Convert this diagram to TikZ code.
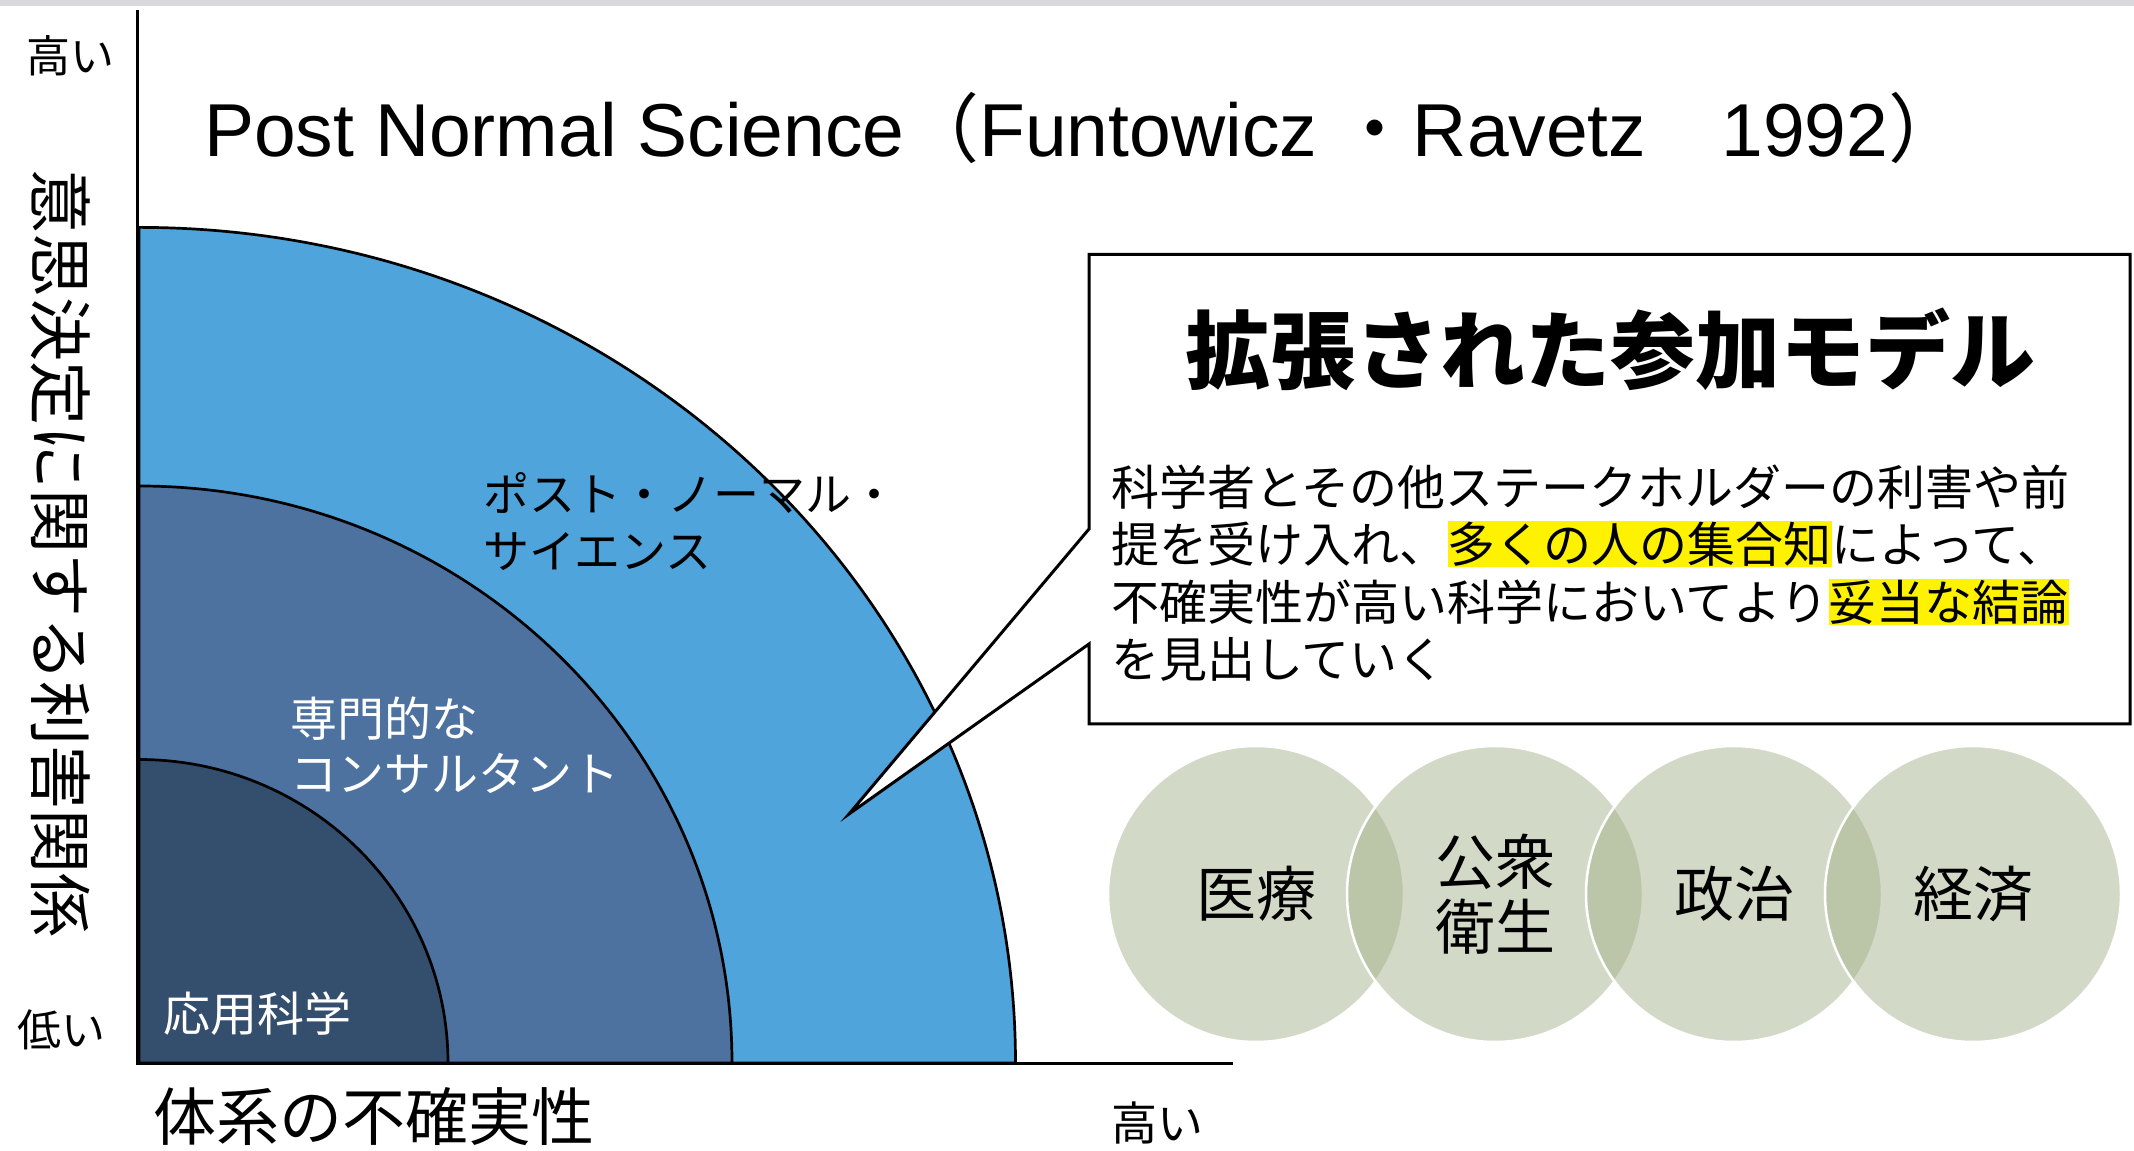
\documentclass[tikz,border=0pt]{standalone}
\usepackage{fontspec}
\setmainfont{Liberation Sans}
\newfontfamily\cjk{Noto Sans CJK JP}
\definecolor{topgrey}{RGB}{214,216,220}
\definecolor{psblue}{RGB}{79,165,219}
\definecolor{ecblue}{RGB}{78,114,160}
\definecolor{asblue}{RGB}{52,78,109}
\definecolor{venncol}{RGB}{163,178,138}
\newcommand\hlt[1]{{\setlength{\fboxsep}{0pt}\colorbox{yellow}{\rule[-0.1em]{0pt}{0.95em}#1}}}
\begin{document}
\begin{tikzpicture}[x=1pt,y=1pt,
  jp/.style={inner sep=0pt, font=\cjk\fontsize{#1}{#1}\selectfont, text height={0.88*#1pt}, text depth={0.12*#1pt}},
  jpb/.style={inner sep=0pt, font=\cjk\bfseries\fontsize{#1}{#1}\selectfont, text height={0.88*#1pt}, text depth={0.12*#1pt}},
  region/.style={draw=black, line width=2.7pt, line join=round},
  axisline/.style={draw=black, line width=3pt},
  venn/.style={circle, minimum size=296pt, inner sep=0pt, fill=venncol, fill opacity=0.48, draw=white, draw opacity=1, line width=2.5pt}
]
\useasboundingbox (0,0) rectangle (2134,1151);
\fill[white] (0,0) rectangle (2134,1151);
\fill[topgrey] (0,1145) rectangle (2134,1151);

% quarter regions
\coordinate (O) at (139,88);
\filldraw[fill=psblue, region] (O) -- ++(0,835.6) arc[start angle=90, end angle=0, x radius=876.5, y radius=835.6] -- cycle;
\filldraw[fill=ecblue, region] (O) -- ++(0,577) arc[start angle=90, end angle=0, x radius=593, y radius=577] -- cycle;
\filldraw[fill=asblue, region] (O) -- ++(0,303.5) arc[start angle=90, end angle=0, x radius=309, y radius=303.5] -- cycle;

% axes
\coordinate (ytop) at (137,1141);
\coordinate (orig) at (137,87);
\coordinate (xend) at (1233,87);
\draw[axisline] (ytop) -- (orig) -- (xend);

% title
\node[anchor=base west, inner sep=0pt, font=\fontsize{75}{75}\selectfont] (title) at (204,994.5)
  {Post Normal Science{\cjk （}Funtowicz {\cjk ・}Ravetz{\cjk 　}1992{\cjk ）}};

% axis labels
\node[jp=44] (yhigh) at (71,1095) {高い};
\node[jp=44] (ylow) at (61,121) {低い};
\node[jp=64, rotate=-90] (ylabel) at (61,597) {意思決定に関する利害関係};
\node[jp=63] (xlabel) at (374,34) {体系の不確実性};
\node[jp=46] (xhigh) at (1157,28) {高い};

% region labels
\node[jp=46, anchor=west] (ps1) at (483,657) {ポスト・ノーマル・};
\node[jp=46, anchor=west] (ps2) at (483,600) {サイエンス};
\node[jp=47, anchor=west, text=white] (ec1) at (290,432) {専門的な};
\node[jp=47, anchor=west, text=white] (ec2) at (290,377) {コンサルタント};
\node[jp=47, anchor=west, text=white] (as) at (163,137) {応用科学};

% callout
\coordinate (tip) at (849,337);
\coordinate (ctl) at (1089,896.5);
\coordinate (ctr) at (2130,896.5);
\coordinate (cbr) at (2130,427);
\coordinate (cbl) at (1089,427);
\coordinate (pb) at (1089,507);
\coordinate (pt) at (1089,622);
\draw[fill=white, line width=3pt] (ctl) -- (ctr) -- (cbr) -- (cbl) -- (pb) -- (tip) -- (pt) -- cycle;

\node[jpb=85] (ctitle) at (1610,801) {拡張された参加モデル};
\node[jp=48, anchor=west] (l1) at (1111,664) {科学者とその他ステークホルダーの利害や前};
\node[jp=48, anchor=west] (l2) at (1111,607) {提を受け入れ、\hlt{多くの人の集合知}によって、};
\node[jp=48, anchor=west] (l3) at (1111,549) {不確実性が高い科学においてより\hlt{妥当な結論}};
\node[jp=48, anchor=west] (l4) at (1111,492) {を見出していく};

% venn circles
\node[venn] (v1) at (1256,257) {};
\node[venn] (v2) at (1495,257) {};
\node[venn] (v3) at (1734,257) {};
\node[venn] (v4) at (1973,257) {};
\node[jp=60] (t1) at (v1.center) {医療};
\node[jp=60] (t2a) at ([yshift=32]v2.center) {公衆};
\node[jp=60] (t2b) at ([yshift=-33]v2.center) {衛生};
\node[jp=60] (t3) at (v3.center) {政治};
\node[jp=60] (t4) at (v4.center) {経済};
\end{tikzpicture}
\end{document}
